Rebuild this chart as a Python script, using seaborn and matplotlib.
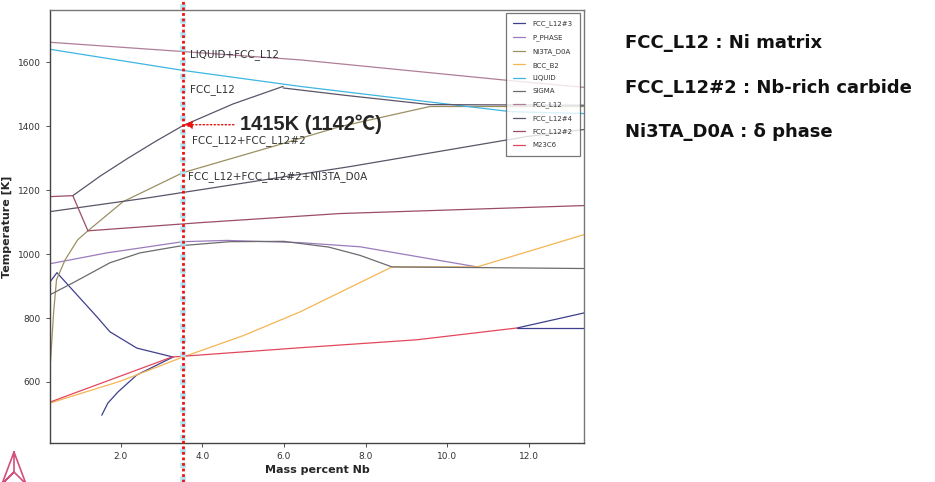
import numpy as np
import pandas as pd
import matplotlib
matplotlib.use("Agg")
import matplotlib.pyplot as plt
import seaborn as sns
from matplotlib import transforms
from matplotlib.lines import Line2D

# ---------------- data ----------------
phases = ["FCC_L12#3", "P_PHASE", "NI3TA_D0A", "BCC_B2", "LIQUID",
          "SIGMA", "FCC_L12", "FCC_L12#4", "FCC_L12#2", "M23C6"]
phase_colors = ["#3f3f8f", "#9b7bbd", "#9a9062", "#f5b552", "#3db6e2",
                "#6b6b70", "#b07e98", "#5c5468", "#9b4d68", "#e3475c"]

# FCC_L12 (liquidus)
fcc_x = [0.26, 3.52, 6.39, 11.47, 13.36]
fcc_T = [1663, 1634, 1608, 1544, 1522]
# LIQUID (solidus)
liq_x = [0.26, 3.52, 6.39, 11.55, 13.36]
liq_T = [1641, 1575, 1525, 1446, 1440]
# FCC_L12#4 lines
solv_x = [0.82, 1.5, 2.17, 2.85, 3.52, 4.75, 5.98]
solv_T = [1183, 1245, 1300, 1353, 1402, 1470, 1525]
solv2_x = [5.98, 7.5, 9.58, 13.36]
solv2_T = [1520, 1497, 1468, 1466]
str_x = [0.26, 2.71, 7.62, 11.96, 13.36]
str_T = [1133, 1177, 1274, 1368, 1390]
# NI3TA_D0A
ni3_x = [0.27, 0.35, 0.42, 0.63, 0.94, 1.19, 2.05, 3.52, 5.73, 7.37, 9.58, 13.36]
ni3_T = [660, 820, 920, 982, 1045, 1073, 1164, 1255, 1337, 1399, 1462, 1462]
# FCC_L12#2
m2a_x = [0.26, 0.82, 1.19]
m2a_T = [1180, 1183, 1073]
m2b_x = [1.19, 4.0, 7.37, 13.36]
m2b_T = [1073, 1099, 1127, 1152]
# P_PHASE
pp_x = [0.26, 1.66, 3.52, 4.6, 6.39, 7.87, 10.74]
pp_T = [970, 1004, 1039, 1043, 1036, 1023, 960]
# SIGMA
sg_x = [0.26, 0.82, 1.73, 2.47, 3.52, 4.67, 6.0, 7.1, 7.87, 8.65, 10.74, 13.36]
sg_T = [873, 910, 973, 1004, 1027, 1039, 1040, 1022, 996, 960, 958, 955]
# BCC_B2
bcc_x = [0.26, 2.0, 3.52, 5.0, 6.39, 8.65, 10.74, 13.36]
bcc_T = [534, 603, 678, 745, 819, 960, 960, 1061]
# M23C6
m23_x = [0.26, 1.98, 3.25, 6.39, 9.26, 11.72]
m23_T = [537, 618, 678, 707, 732, 769]
# FCC_L12#3
f3a_x = [0.26, 0.43, 1.41, 1.73, 2.39, 3.28]
f3a_T = [913, 942, 804, 757, 706, 678]
f3b_x = [1.53, 1.68, 1.93, 2.39, 3.28]
f3b_T = [496, 534, 569, 622, 678]
f3c_x = [11.72, 13.36]
f3c_T = [769, 769]
f3d_x = [11.72, 13.36]
f3d_T = [769, 816]

segments = [
    ("FCC_L12", fcc_x, fcc_T), ("LIQUID", liq_x, liq_T),
    ("FCC_L12#4", solv_x, solv_T), ("FCC_L12#4", solv2_x, solv2_T),
    ("FCC_L12#4", str_x, str_T), ("NI3TA_D0A", ni3_x, ni3_T),
    ("FCC_L12#2", m2a_x, m2a_T), ("FCC_L12#2", m2b_x, m2b_T),
    ("P_PHASE", pp_x, pp_T), ("SIGMA", sg_x, sg_T),
    ("BCC_B2", bcc_x, bcc_T), ("M23C6", m23_x, m23_T),
    ("FCC_L12#3", f3a_x, f3a_T), ("FCC_L12#3", f3b_x, f3b_T),
    ("FCC_L12#3", f3c_x, f3c_T), ("FCC_L12#3", f3d_x, f3d_T),
]

x_ticks = [2.0, 4.0, 6.0, 8.0, 10.0, 12.0]
y_ticks = [600, 800, 1000, 1200, 1400, 1600]
marker_x = 3.52
marker_T = 1405

region_labels = ["LIQUID+FCC_L12", "FCC_L12", "FCC_L12+FCC_L12#2",
                 "FCC_L12+FCC_L12#2+NI3TA_D0A"]
region_x = [3.69, 3.69, 3.74, 3.64]
region_T = [1625, 1515, 1355, 1243]

notes = ["FCC_L12 : Ni matrix", "FCC_L12#2 : Nb-rich carbide", "Ni3TA_D0A : δ phase"]

# ---------------- build table ----------------
rows = []
for i, (ph, xs, ts) in enumerate(segments):
    for j, (xv, tv) in enumerate(zip(xs, ts)):
        rows.append({"phase": ph, "seg": i, "order": j, "x": xv, "T": tv})
df = pd.DataFrame(rows)

# ---------------- plot ----------------
sns.set_style("white")
plt.rcParams["font.family"] = ["DejaVu Sans"]
fig = plt.figure(figsize=(9.35, 4.82), dpi=100)
ax = fig.add_axes([50/935, 1-443/482, 534/935, 433/482])

pal = dict(zip(phases, phase_colors))
sns.lineplot(data=df, x="x", y="T", hue="phase", units="seg", estimator=None,
             sort=False, hue_order=phases, palette=pal, lw=0.9, ax=ax)

ax.set_xlim(0.26, 13.36)
ax.set_ylim(409, 1764)
ax.set_xticks(x_ticks)
ax.set_xticklabels([f"{v:.1f}" for v in x_ticks])
ax.set_yticks(y_ticks)
ax.set_yticklabels([str(v) for v in y_ticks])
ax.tick_params(axis="both", labelsize=6.5, colors="#333333", length=3, width=0.6,
               direction="out", bottom=True, left=True)
for s in ["left", "bottom"]:
    ax.spines[s].set_color("#444444")
    ax.spines[s].set_linewidth(1.0)
for s in ["top", "right"]:
    ax.spines[s].set_color("#777777")
    ax.spines[s].set_linewidth(1.0)
ax.set_xlabel("Mass percent Nb", fontsize=8, fontweight="bold", labelpad=3)
ax.set_ylabel("Temperature [K]", fontsize=8, fontweight="bold", labelpad=4)

# legend
handles, labels = ax.get_legend_handles_labels()
leg = ax.legend(handles, labels, loc="upper right", bbox_to_anchor=(0.9925, 0.993),
                fontsize=5, frameon=True, fancybox=False, edgecolor="#555555",
                handlelength=1.6, labelspacing=1.0, borderpad=1.1, handletextpad=1.1,
                borderaxespad=0.0)
leg.get_frame().set_linewidth(0.9)
for t in leg.get_texts():
    t.set_color("#333333")

# region labels
for lab, xv, tv in zip(region_labels, region_x, region_T):
    ax.text(xv, tv, lab, fontsize=7.5, color="#333333", va="center", ha="left")

# vertical marker line spanning the figure height
trans = transforms.blended_transform_factory(ax.transData, fig.transFigure)
fig.add_artist(Line2D([marker_x, marker_x], [0, 1], transform=trans,
                      color="#aee6f5", lw=4, linestyle=(0, (1, 1.5))))
fig.add_artist(Line2D([marker_x, marker_x], [0, 1], transform=trans,
                      color="#ee1111", lw=2, linestyle=(0, (1, 1))))

# annotation
ax.annotate("1415K (1142℃)", xy=(marker_x + 0.03, marker_T), xytext=(4.92, marker_T),
            fontsize=14.5, fontweight="bold", va="center", ha="left",
            family=["Liberation Sans", "Noto Sans CJK KR", "DejaVu Sans"],
            arrowprops=dict(arrowstyle="-|>", color="#ee1111", lw=1.0,
                            linestyle=":", mutation_scale=12, shrinkA=2, shrinkB=0))

# right-side notes
note_y = [1-43/482, 1-88/482, 1-132/482]
for txt, yy in zip(notes, note_y):
    fig.text(625/935, yy, txt, fontsize=13, fontweight="bold", va="center", ha="left",
             family=["DejaVu Sans"], color="#111111")

# small logo fragment bottom-left
lx = np.array([14, 2, 26, 14, 14, 2, 14, 26]) / 935
ly = 1 - np.array([452, 484, 484, 452, 472, 484, 472, 484]) / 482
fig.add_artist(Line2D(lx, ly, color="#d2507a", lw=1.2))

fig.savefig("out.png", dpi=100)
